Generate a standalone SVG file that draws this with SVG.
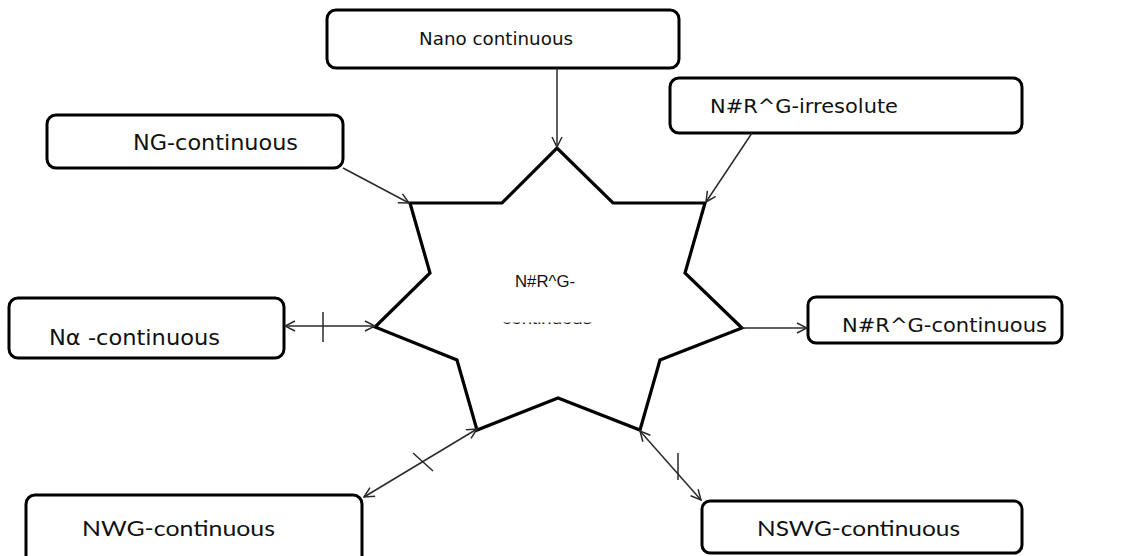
<svg xmlns="http://www.w3.org/2000/svg" width="1124" height="556" viewBox="0 0 1124 556">
<style>
.box{fill:#fff;stroke:#000;stroke-width:3}
.lbl{font-family:"DejaVu Sans",Verdana,sans-serif;fill:#111}
.lbl2{font-family:Lato,"Open Sans",sans-serif;fill:#111}
.con{stroke:#2a2a2a;stroke-width:1.5;fill:none}
</style>
<defs>
<marker id="ah" viewBox="0 0 12 12" refX="11" refY="6" markerWidth="12" markerHeight="12" markerUnits="userSpaceOnUse" orient="auto-start-reverse">
<path d="M1,1 L11,6 L1,11" fill="none" stroke="#2a2a2a" stroke-width="1.5"/>
</marker>
<clipPath id="cut" clipPathUnits="userSpaceOnUse"><rect x="495" y="322.6" width="110" height="1.6"/></clipPath>
</defs>
<rect width="1124" height="556" fill="#fff"/>
<g id="center">
<polygon points="410,203 502,203 557,148 613,203 705,203 685,273 742,328 660,360 640,430 558,398 477,430 457,360 375,327 430,273" fill="#fff" stroke="#000" stroke-width="3.2" stroke-linejoin="miter"/>
<text x="515" y="287" font-family="Liberation Sans,Arial,sans-serif" font-size="16" textLength="60" lengthAdjust="spacingAndGlyphs" fill="#111">N#R^G-</text>
<g clip-path="url(#cut)">
<text x="502" y="324" font-family="Liberation Sans,Arial,sans-serif" font-size="16" textLength="90" lengthAdjust="spacingAndGlyphs" fill="#111">continuous</text>
</g>
</g>
<g id="nano">
<rect class="box" x="327" y="10" width="352" height="58" rx="9"/>
<text class="lbl" x="419" y="45" font-size="18" textLength="154" lengthAdjust="spacingAndGlyphs">Nano continuous</text>
</g>
<g id="ng">
<rect class="box" x="47" y="115" width="296" height="53" rx="9"/>
<text class="lbl" x="133" y="150" font-size="21" textLength="165" lengthAdjust="spacingAndGlyphs">NG-continuous</text>
</g>
<g id="irresolute">
<rect class="box" x="670" y="78" width="352" height="55" rx="9"/>
<text class="lbl" x="710" y="113" font-size="19" textLength="188" lengthAdjust="spacingAndGlyphs">N#R^G-irresolute</text>
</g>
<g id="nalpha">
<rect class="box" x="9" y="298" width="275" height="60" rx="9"/>
<text class="lbl" x="49" y="345" font-size="21" textLength="171" lengthAdjust="spacingAndGlyphs">Nα -continuous</text>
</g>
<g id="nrg">
<rect class="box" x="808" y="297" width="254" height="46" rx="8"/>
<text class="lbl" x="842" y="332" font-size="20" textLength="205" lengthAdjust="spacingAndGlyphs">N#R^G-continuous</text>
</g>
<g id="nwg">
<rect class="box" x="26" y="495" width="336" height="70" rx="9"/>
<text class="lbl2" x="82" y="536" font-size="21" textLength="193" lengthAdjust="spacingAndGlyphs">NWG-continuous</text>
</g>
<g id="nswg">
<rect class="box" x="702" y="501" width="320" height="52" rx="8"/>
<text class="lbl2" x="757" y="536" font-size="21" textLength="203" lengthAdjust="spacingAndGlyphs">NSWG-continuous</text>
</g>
<g id="connectors">
<line class="con" x1="557" y1="68" x2="557" y2="147" marker-end="url(#ah)"/>
<line class="con" x1="343" y1="168" x2="409" y2="203" marker-end="url(#ah)"/>
<line class="con" x1="752" y1="133" x2="706" y2="202" marker-end="url(#ah)"/>
<line class="con" x1="375" y1="326" x2="285" y2="326" marker-start="url(#ah)" marker-end="url(#ah)"/>
<line class="con" x1="323" y1="312" x2="323" y2="342"/>
<line class="con" x1="742" y1="328" x2="807" y2="328" marker-end="url(#ah)"/>
<line class="con" x1="477" y1="429" x2="364" y2="497" marker-start="url(#ah)" marker-end="url(#ah)"/>
<line class="con" x1="413" y1="453" x2="433" y2="471"/>
<line class="con" x1="640" y1="431" x2="701" y2="500" marker-start="url(#ah)" marker-end="url(#ah)"/>
<line class="con" x1="678" y1="453" x2="678" y2="480"/>
</g>
</svg>
